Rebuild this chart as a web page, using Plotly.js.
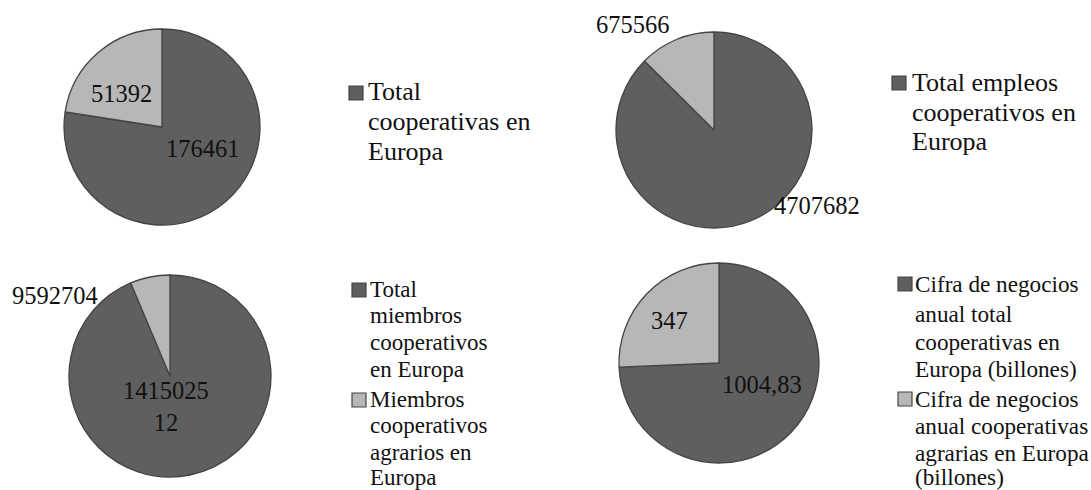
<!DOCTYPE html>
<html>
<head>
<meta charset="utf-8">
<script src="https://cdn.plot.ly/plotly-3.0.1.min.js"></script>
<style>
html,body{margin:0;padding:0;background:#fff;}
#chart{width:1091px;height:490px;}
</style>
</head>
<body>
<div id="chart"></div>
<script>
// ---- Data ----
const coopLabels = ["Total cooperativas en Europa", "Cooperativas agrarias en Europa"];
const coopValues = [176461, 51392];

const empleoLabels = ["Total empleos cooperativos en Europa", "Empleos cooperativos agrarios en Europa"];
const empleoValues = [4707682, 675566];

const miembrosLabels = ["Total miembros cooperativos en Europa", "Miembros cooperativos agrarios en Europa"];
const miembrosValues = [141502512, 9592704];

const cifraLabels = ["Cifra de negocios anual total cooperativas en Europa (billones)", "Cifra de negocios anual cooperativas agrarias en Europa (billones)"];
const cifraValues = [1004.83, 347];

// legend text as wrapped in the reference (per shown entry)
const coopLegend = [["Total", "cooperativas en", "Europa"]];
const empleoLegend = [["Total empleos", "cooperativos en", "Europa"]];
const miembrosLegend = [["Total", "miembros", "cooperativos", "en Europa"], ["Miembros", "cooperativos", "agrarios en", "Europa"]];
const cifraLegend = [["Cifra de negocios", "anual total", "cooperativas en", "Europa (billones)"], ["Cifra de negocios", "anual cooperativas", "agrarias en Europa", "(billones)"]];

// ---- Styles / layout ----
const W = 1091, H = 490;
const colors = ["#5f5f5f", "#b7b7b7"];
const lineColor = "#444444";
const FONT = "'Liberation Serif', 'Times New Roman', serif";
const px = x => x / W;
const py = y => 1 - y / H;

const charts = [
  {labels: coopLabels, values: coopValues, legend: coopLegend,
   cx: 162, cy: 127, r: 98,
   labelPos: [[203, 148], [121, 94]], labelSize: 24.5, wrap: 0,
   leg: {sqX: 349, textX: 367, size: 26, entries: [{sqY: 86, base: [100, 130, 160]}]}},
  {labels: empleoLabels, values: empleoValues, legend: empleoLegend,
   cx: 714, cy: 130, r: 98,
   labelPos: [[817, 206], [633, 24]], labelSize: 24.5, wrap: 0,
   leg: {sqX: 892, textX: 911, size: 26, entries: [{sqY: 76, base: [91, 121, 150]}]}},
  {labels: miembrosLabels, values: miembrosValues, legend: miembrosLegend,
   cx: 170, cy: 376, r: 101,
   labelPos: [[166, 406], [55, 295]], labelSize: 24.5, wrap: 7,
   leg: {sqX: 352, textX: 369, size: 23, entries: [{sqY: 283, base: [297, 323, 350, 377]}, {sqY: 393, base: [407, 433, 460, 485]}]}},
  {labels: cifraLabels, values: cifraValues, legend: cifraLegend,
   cx: 719, cy: 363, r: 100,
   labelPos: [[762, 384], [669, 320]], labelSize: 24.5, wrap: 0,
   leg: {sqX: 898, textX: 914, size: 23.2, entries: [{sqY: 277, base: [292, 322, 350, 377]}, {sqY: 392, base: [407, 434, 461, 485]}]}}
];

function fmt(v, wrap) {
  let s = String(v).replace(".", ",");
  if (wrap && s.length > wrap) {
    const parts = [];
    for (let i = 0; i < s.length; i += wrap) parts.push(s.slice(i, i + wrap));
    s = parts.join("<br>");
  }
  return s;
}

const traces = [];
const annotations = [];
const shapes = [];

charts.forEach((c, ci) => {
  traces.push({
    type: "pie",
    labels: c.labels,
    values: c.values,
    sort: false,
    direction: "clockwise",
    rotation: 0,
    textinfo: "none",
    hoverinfo: "none",
    showlegend: false,
    marker: {colors: colors, line: {color: lineColor, width: 1.3}},
    domain: {x: [px(c.cx - c.r), px(c.cx + c.r)], y: [py(c.cy + c.r), py(c.cy - c.r)]}
  });
  // data labels
  c.values.forEach((v, i) => {
    annotations.push({
      xref: "paper", yref: "paper",
      x: px(c.labelPos[i][0]), y: py(c.labelPos[i][1]),
      xanchor: "center", yanchor: "middle",
      text: fmt(v, c.wrap), showarrow: false,
      font: {family: FONT, size: c.labelSize, color: "#111"}
    });
  });
  // legend
  c.leg.entries.forEach((e, ei) => {
    const sq = 14;
    shapes.push({
      type: "rect", xref: "paper", yref: "paper",
      x0: px(c.leg.sqX), x1: px(c.leg.sqX + sq),
      y0: py(e.sqY + sq), y1: py(e.sqY),
      fillcolor: colors[ei], line: {color: lineColor, width: 1.2}
    });
    c.legend[ei].forEach((line, li) => {
      annotations.push({
        xref: "paper", yref: "paper",
        x: px(c.leg.textX), y: py(e.base[li] - 0.34 * c.leg.size),
        xanchor: "left", yanchor: "middle",
        text: line, showarrow: false, borderpad: 0,
        font: {family: FONT, size: c.leg.size, color: "#111"}
      });
    });
  });
});

const layout = {
  width: W, height: H,
  margin: {l: 0, r: 0, t: 0, b: 0},
  paper_bgcolor: "#ffffff",
  plot_bgcolor: "#ffffff",
  showlegend: false,
  annotations: annotations,
  shapes: shapes,
  font: {family: FONT}
};

Plotly.newPlot("chart", traces, layout, {displayModeBar: false, staticPlot: true});
</script>
</body>
</html>
